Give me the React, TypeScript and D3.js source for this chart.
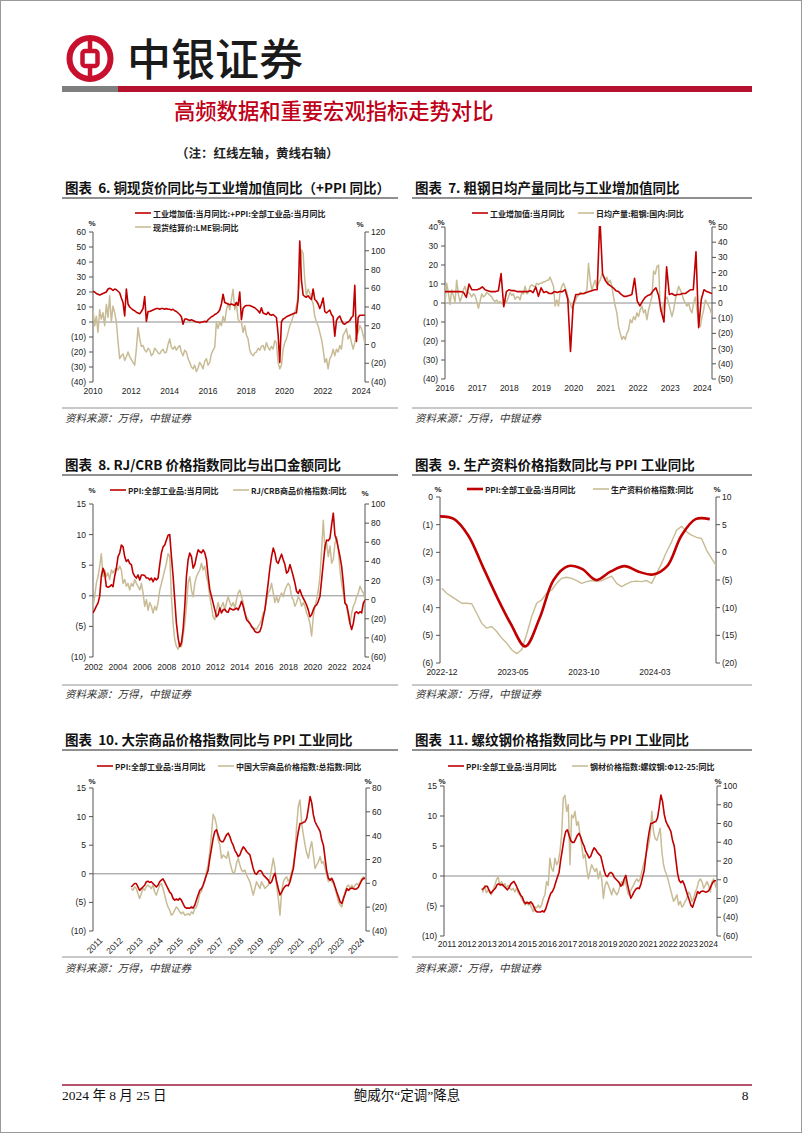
import React from 'react';
import * as d3 from 'd3';

const RED = '#C00000';
const GOLD = '#C8BC96';
const CJK = '"Noto Sans CJK SC", "Noto Sans", sans-serif';
const NUM = '"Liberation Sans", Arial, sans-serif';
const SERIF = '"Liberation Serif", "Noto Sans CJK SC", serif';

// ---------------- data ----------------
// Chart 6
const ch6YearTicks = [2010, 2012, 2014, 2016, 2018, 2020, 2022, 2024];
const ch6Span: [number, number] = [2010.0, 2024.19];
const ch6IvaPpi = [
  20.5, 20, 19, 18.5, 18, 18.5, 19, 19.5, 20, 22,
  22.5, 22, 21, 22, 21.5, 20.5, 19.5, 16, 13, 4,
  22, 12, 10, 9, 8, 7.5, 6.5, 6, 5.5, 7,
  9, 17, 0.5, 7, 7, 7.5, 8, 8.5, 9, 9,
  8.5, 9, 9, 8.5, 9, 8.5, 8.5, 8, 8.5, 7.5,
  7, 6, 5, 3.5, -1.5, 2, 2, 1.5, 1, 1.5,
  1, 0.5, 0, 0, -0.5, 0, 0, 0.5, 0, 1.5,
  2.5, 3.5, 4, 5, 5.5, 6.5, 8, 12, 18.5, 13,
  12.5, 12, 11.5, 12, 11.5, 11, 13, 11, 20, 1.5,
  9, 10.5, 11, 11, 11, 10.5, 10, 9.5, 8.5, 7.5,
  6, 9.5, 6, 5.5, 5, 6.5, 5, 4.5, 5, 4,
  3, -8, -27, 0, 2, 2.5, 3.5, 4, 4.5, 5,
  5.5, 6, 6, 15, 54, 28, 18, 17, 16.5, 17.5,
  16, 15, 22, 15, 14, 12, 9, 12, 16, 7,
  6, 7, 8, 5, 3.5, -9.5, 1, 3, 4, 1,
  -1, -1.5, -0.5, 0, 1, 3, 4, 24.5, -13, 3,
  4.5, 4.5, 4.5, 4.5,
];
const ch6Copper = [
  37, 20, 30, 13, 37, 27, 34, 20, 43, 29,
  52, 24, 41, 34, 24, 3, -15, -12, -10, -17,
  -13, -8, -13, -16, -19, -22, -5, 18, 6, -2,
  -1, -6, -8, -4, -6, -12, -10, -4, -6, -9,
  -10, -7, -5, -9, -8, 0, 6, -3, -5, -2,
  -6, -3, -1, -8, -12, -6, -8, -15, -19, -24,
  -26, -22, -29, -25, -19, -22, -26, -18, -15, -22,
  -19, -10, -6, -3, 24, 17, 24, 20, 30, 24,
  37, 44, 37, 48, 59, 37, 44, 27, 24, 24,
  13, 20, 10, 6, -6, -10, -12, -9, -8, -4,
  -6, -2, -1, -6, 2, -3, -6, -2, -5, 4,
  2, -19, -26, -22, -5, 2, 6, 13, 20, 24,
  30, 34, 41, 52, 69, 101, 97, 69, 52, 59,
  55, 48, 44, 30, 24, 20, 13, 6, -5, -19,
  -15, -26, -15, -12, -5, -12, -5, -8, -1, -5,
  10, 13, 17, 6, 10, 2, -5, 2, 10, 13,
  20, 17, 10, 2,
];

// Chart 7
const ch7YearTicks = [2016, 2017, 2018, 2019, 2020, 2021, 2022, 2023, 2024];
const ch7Span: [number, number] = [2016.0, 2024.3];
const ch7Iva = [
  6, 6, 6, 6, 6, 6, 6, 5.5, 3, 10,
  7, 7, 7, 7.5, 8.5, 7, 6.5, 6, 6, 6,
  6.5, 15.5, -2, 6, 7, 6.5, 6.5, 6, 6, 6,
  6, 6, 6.5, 5.5, 8.5, 3.5, 8, 5.5, 6, 5,
  5, 6, 5.5, 6, 6, 7, 2, -25.5, -1, 4.5,
  4.5, 5, 5, 5.5, 6, 6.5, 7, 7, 45, 15.5,
  12, 10, 9, 8, 6.5, 6, 4.5, 3.5, 3.5, 4,
  4.5, 13, 1, -1.5, 1, 3, 4, 4.5, 6.5, 8,
  4, -4.5, -10, 19, 4.5, 5, 4, 4.5, 4.5, 5,
  5, 6, 7, 7, 27, -13, 2, 7, 6, 5.5, 5,
];
const ch7Steel = [
  -0.2, 13, 7, -1, 8.5, 5, 0.6, 15, 6, 1,
  4, 8.5, 11, 6, 7, 6, 4, 6, 5, 1,
  -3.5, 1, 6, 4, 5, 7, 6, 5, 4, 2,
  1, 2, 0, 1, 0, -1, 1, 1, 4, 7,
  5, 6, 2.5, 4, 4, 2, 7, 6, 11, 6,
  7, 11, 12, 11, 11, 13, 12, 13, 13, 14,
  14, 15, 15, 17, 14, 11, -2, 2, -2, 7,
  11, 13, 10, 7, 2, 0, -3.5, -2, 1, 4,
  5, 7, 6, 6, 7, 8.5, 26, 15, 8.5, 12,
  15, 10, 13, 15, 19, 17, 15, 17, 13, 15,
  11, 4, -2, -6.5, -15.5, -20, -24, -22, -24, -20,
  -17.7, -11, -13, -9, -11, -6.5, -9, -4.5, -2, -6.5,
  -4.5, -11, -4.5, 0, 4, 21, 19, 24, 25, -4.5,
  -6.5, 0, 2, 4, 0, -4.5, -9, -4.5, 2, 7,
  11, 8.5, 6, 2, 0, -2, 0, -4.5, -6.5, 0,
  4, -4.5, -13, -15.5, -9, -4.5, 2, 0, -2, -4.5,
  -8,
];

// Chart 8
const ch8YearTicks = [2002, 2004, 2006, 2008, 2010, 2012, 2014, 2016, 2018, 2020, 2022, 2024];
const ch8Span: [number, number] = [2001.95, 2024.28];
const ch8Ppi = [
  -2.8, -2.3, -1.7, -1.2, -0.1, 3.2, 4.5, 3.7, 1.5, 1.4,
  1.5, 1.8, 1.5, 3.2, 4.5, 6.4, 7, 8.3, 8, 6.4,
  5.6, 5.9, 5.3, 5.1, 3.7, 3.2, 2.9, 3.4, 2.6, 3.4,
  3.4, 3.3, 2.9, 2.9, 2.6, 2.9, 2.3, 2.9, 2.6, 2.9,
  5.1, 7, 8, 8.3, 9.1, 9.9, 10, 6.4, 3.2, -0.7,
  -4.5, -6.9, -8.3, -7.7, -5.5, -1.7, 3.2, 5.9, 7, 6.4,
  4.5, 5.1, 6.4, 7.5, 7.2, 7, 7.5, 7, 5.9, 3.2,
  1, -0.1, -1.2, -2.3, -3.4, -3.1, -2, -2.8, -2.3, -2.2,
  -2.6, -2.7, -2, -2.2, -2.3, -2.2, -2, -2.3, -1.7, -0.9,
  -1.7, -2.8, -3.9, -4.2, -4.5, -5, -5.3, -5.8, -6, -6,
  -5.8, -5, -3.6, -2.3, -0.1, 2.1, 4.5, 6.4, 7.8, 7,
  5.6, 5.3, 6.1, 6.8, 5.9, 5.1, 3.7, 4, 5.1, 4.2,
  3.2, 2.1, 0.7, 0.4, 1, 0.2, -0.4, -0.9, -1.5, -2.3,
  -3.4, -3.1, -2.3, -1.7, -1.5, -0.9, -0.1, 2.6, 5.3, 8,
  9.1, 9, 9.4, 11.6, 13.5, 9.9, 9.1, 7.8, 6.4, 4.8,
  2.1, -1.2, -1.5, -2.8, -4.5, -5.5, -4.5, -2.8, -2.6, -2.9,
  -2.6, -2.8, -1.2, -0.7,
];
const ch8Crb = [
  -7, 3, 17, 24, 35, 48, 24, 31, 24, 28,
  21, 31, 28, 31, 33, 31, 35, 31, 17, 21,
  14, 17, 10, 17, 14, 21, 17, 14, 10, 17,
  7, -7, 0, -11, -3, -7, -14, -7, -11, -3,
  10, 17, 24, 31, 38, 48, 45, 3, -25, -42,
  -49, -52, -45, -49, -38, -25, -7, 17, 24, 10,
  3, 17, 24, 28, 31, 38, 31, 35, 24, 17,
  3, -7, -18, -21, -11, -3, -11, -7, -3, -11,
  -3, 3, -3, -7, -3, -9, 0, 7, 10, 3,
  -3, -14, -18, -21, -25, -28, -31, -30, -31, -28,
  -25, -21, -14, -11, 0, 7, 10, 17, 7, -3,
  3, -3, 3, 7, 3, 10, 14, 17, 14, 3,
  0, -7, -3, 3, 0, -7, -3, -7, -14, -18,
  -25, -38, -18, -7, 0, 10, 24, 52, 83, 52,
  59, 45, 56, 38, 42, 59, 66, 52, 31, 17,
  7, -3, -7, -18, -25, -14, -7, -3, 3, 7,
  14, 10, 7, 0,
];

// Chart 9 (months since 2022-12)
const ch9MonthTicks = [0, 5, 10, 15];
const ch9MonthLabels = ['2022-12', '2023-05', '2023-10', '2024-03'];
const ch9PpiSpan: [number, number] = [0, 19];
const ch9Ppi = [-0.7, -0.8, -1.4, -2.5, -3.6, -4.6, -5.4, -4.4, -3.0, -2.5, -2.6, -3.0, -2.7, -2.5, -2.7, -2.8, -2.5, -1.4, -0.8, -0.8];
const ch9MeansSpan: [number, number] = [0.12, 19.48];
const ch9Means = [
  -6.5, -7.4, -8, -8.6, -9.2, -9.2, -9.3, -11, -12.8, -13.7,
  -13.4, -14.3, -15.5, -16.4, -17.6, -18.3, -17.6, -14.8, -11.6, -9.2,
  -8.6, -7.4, -6.8, -5.6, -4.7, -4.5, -4.7, -5.1, -5.6, -5.3,
  -5.1, -5.3, -5.1, -4.7, -4.3, -5.6, -6.2, -5.7, -5.3, -5.2,
  -5.3, -5.1, -5.6, -3.8, -2, 0.1, 1.9, 4, 4.7, 3.7,
  3.1, 2.7, 2.5, 0.4, -1.1, -2.5,
];

// Charts 10 & 11
const years2011 = [2011, 2012, 2013, 2014, 2015, 2016, 2017, 2018, 2019, 2020, 2021, 2022, 2023, 2024];
const ppiSpan: [number, number] = [2012.9, 2024.52];
const ppiSince2013 = [
  -2.3, -2, -1.7, -1.7, -2.3, -2.9, -2.6, -2.3, -2, -1.4,
  -1.3, -1.5, -1.4, -1.7, -2, -2.3, -2, -1.4, -1.1, -0.9,
  -1.4, -2, -2.6, -3.2, -3.5, -4.3, -4.6, -4.4, -4.6, -4.3,
  -4.6, -5.2, -5.8, -6, -6, -6, -5.8, -6, -5.5, -4.6,
  -3.7, -2.9, -2.6, -2, -1.1, -0.2, 0.6, 2.7, 4.4, 6.2,
  7.4, 7.7, 6.8, 5.9, 5.6, 5.6, 6.2, 6.8, 7.1, 6.5,
  5.6, 5, 4.1, 3.6, 3, 3.3, 4.1, 4.7, 4.4, 3.9,
  3.6, 3.3, 2.1, 0.9, 0.1, -0.1, 0.4, 0.6, 0.4, -0.2,
  -0.5, -0.8, -1.1, -1.7, -1.4, -0.5, 0.1, -1.4, -2.6, -3.7,
  -3.2, -2.6, -2.2, -2, -2.1, -1.4, -0.2, 0.9, 3.3, 5.6,
  7.4, 8.8, 8.8, 9, 9.1, 9.7, 11.5, 13.5, 12.4, 10.3,
  9.1, 8.5, 8, 7.4, 5.9, 5, 2.7, 0.4, -0.8, -1.1,
  -0.8, -1.4, -2.3, -3.2, -4, -4.9, -5.2, -4.3, -3.5, -2.6,
  -2.9, -2.6, -2.5, -2.6, -2.7, -2.6, -2.3, -1.7, -1.1, -0.8,
  -0.8,
];
const ch10BulkSpan: [number, number] = [2012.9, 2024.52];
const ch10Bulk = [
  -4.3, -5.7, -2.9, -4.3, -8.5, -12.7, -8.5, -4.3, -5.7, -2.9,
  -1.5, -2.9, -4.3, -1.5, -7.1, -9.9, -5.7, -1.5, -0.1, -4.3,
  -9.9, -15.6, -19.8, -22.6, -26.8, -25.4, -22.6, -19.8, -21.2, -24,
  -25.4, -24, -26.8, -26.2, -25.4, -26.8, -24, -25.4, -21.2, -19.8,
  -15.6, -8.5, -7.1, -1.5, 1.3, 9.8, 15.4, 26.6, 40.7, 58,
  55, 49, 36.4, 32.2, 21, 23.8, 22.4, 21, 26.6, 18.2,
  12.5, 8.3, 9.8, 16.8, 21, 15.4, 11.1, 9.8, 11.1, 7,
  4.1, 1.3, -4.3, -9.9, -4.3, 1.3, -1.5, -4.3, 1.3, -1.5,
  -4.3, -2.9, -1.5, 4.1, 12.5, 21, 12.5, -1.5, -12.7, -26.8,
  -7.1, 1.3, 4.1, 5.5, 1.3, 4.1, 9.8, 15.4, 26.6, 49,
  65, 70, 50, 40.7, 32.2, 25.2, 21, 29.4, 35, 23.8,
  12.5, 15.4, 18.2, 22.4, 16.8, 18.2, 12.5, 7, 1.3, 4.1,
  1.3, -0.1, -4.3, -9.9, -15.6, -18.4, -19.8, -12.7, -7.1, -2.9,
  -1.5, -4.3, -1.5, -4.3, -1.5, -0.1, -1.5, 1.3, 4.1, 5.5,
  4.1,
];
const ch11RebarSpan: [number, number] = [2012.86, 2024.57];
const ch11Rebar = [
  -9, -13, -6, -14, -11, -13, -16, -11, -6, 0,
  3, -6, -2, -7, -4, -9, -6, -9, -11, -9,
  -13, -9, -14, -16, -20, -23, -27, -23, -27, -25,
  -30, -34, -29, -30, -27, -30, -27, -20, -16, -2,
  -6, 23, 12, 9, 23, 16, 19, 30, 48, 87,
  90, 73, 80, 16, 69, 66, 73, 58, 62, 48,
  37, 23, 27, 12, 1, 9, 16, 12, 9, 12,
  1, 9, 1, -20, -6, -2, -6, -11, -16, -9,
  -13, -16, -13, -6, -2, -6, 1, -9, -16, -13,
  -9, -6, -2, 1, -2, 1, 9, 16, 23, 30,
  37, 48, 73, 51, 44, 42, 48, 55, 30, 16,
  9, 5, -2, -9, -16, -23, -20, -16, -27, -23,
  -29, -27, -23, -20, -13, -16, -23, -20, -13, -9,
  -2, 1, -2, -9, -6, -2, -6, -13, -2, 1,
  -6, -11,
];

// ---------------- chart component ----------------
type S = { values: number[]; span: [number, number]; axis: 'L' | 'R'; color: string; width: number; smooth?: boolean };
type Leg = { text: string; color: string; width: number; x: number; y: number };
type Cfg = {
  id: string; x0: number; x1: number; yTop: number; yBot: number;
  xDomain: [number, number]; lDomain: [number, number]; rDomain: [number, number];
  lStep: number; rStep: number;
  xTicks: number[]; xLabels: string[]; xLabelY: number; rotate?: boolean; xShift?: number;
  zero?: boolean; series: S[]; legend: Leg[]; pctL: [number, number]; pctR: [number, number];
};

const fmt = (v: number) => (v < 0 ? `(${Math.abs(Math.round(v * 100) / 100)})` : `${Math.round(v * 100) / 100}`);

function Chart({ c }: { c: Cfg }) {
  const x = d3.scaleLinear().domain(c.xDomain).range([c.x0, c.x1]);
  const yL = d3.scaleLinear().domain(c.lDomain).range([c.yBot, c.yTop]);
  const yR = d3.scaleLinear().domain(c.rDomain).range([c.yBot, c.yTop]);
  const lTicks = d3.range(c.lDomain[0], c.lDomain[1] + 1e-6, c.lStep);
  const rTicks = d3.range(c.rDomain[0], c.rDomain[1] + 1e-6, c.rStep);
  const paths = c.series.map((s) => {
    const y = s.axis === 'L' ? yL : yR;
    const t = d3.scaleLinear().domain([0, s.values.length - 1]).range(s.span);
    const gen = d3
      .line<number>()
      .x((_, i) => x(t(i)))
      .y((v) => y(v))
      .curve(s.smooth ? d3.curveCatmullRom.alpha(0.5) : d3.curveLinear);
    return gen(s.values) || '';
  });
  const shift = c.xShift || 0;
  return (
    <g>
      <defs>
        <clipPath id={c.id}>
          <rect x={c.x0} y={c.yTop - 1} width={c.x1 - c.x0} height={c.yBot - c.yTop + 2} />
        </clipPath>
      </defs>
      {c.legend.map((l, i) => (
        <g key={i}>
          <line x1={l.x} x2={l.x + 16} y1={l.y} y2={l.y} stroke={l.color} strokeWidth={l.width} />
          <text x={l.x + 18} y={l.y} dominantBaseline="central" fontFamily={CJK} fontSize={8} fontWeight={700} fill="#222">
            {l.text}
          </text>
        </g>
      ))}
      <text x={c.pctL[0]} y={c.pctL[1]} textAnchor="middle" dominantBaseline="central" fontFamily={NUM} fontSize={8} fontWeight={700} fill="#222">%</text>
      <text x={c.pctR[0]} y={c.pctR[1]} textAnchor="middle" dominantBaseline="central" fontFamily={NUM} fontSize={8} fontWeight={700} fill="#222">%</text>
      {c.zero && <line x1={c.x0} x2={c.x1} y1={yL(0)} y2={yL(0)} stroke="#8c8c8c" strokeWidth={1} />}
      <line x1={c.x0} x2={c.x0} y1={c.yTop} y2={c.yBot} stroke="#555" strokeWidth={1} />
      <line x1={c.x1} x2={c.x1} y1={c.yTop} y2={c.yBot} stroke="#555" strokeWidth={1} />
      {lTicks.map((v) => (
        <g key={'l' + v}>
          <line x1={c.x0 - 4} x2={c.x0} y1={yL(v)} y2={yL(v)} stroke="#555" />
          <text x={c.x0 - 7} y={yL(v)} textAnchor="end" dominantBaseline="central" fontFamily={NUM} fontSize={8.5} fill="#222">{fmt(v)}</text>
        </g>
      ))}
      {rTicks.map((v) => (
        <g key={'r' + v}>
          <line x1={c.x1} x2={c.x1 + 4} y1={yR(v)} y2={yR(v)} stroke="#555" />
          <text x={c.x1 + 6} y={yR(v)} textAnchor="start" dominantBaseline="central" fontFamily={NUM} fontSize={8.5} fill="#222">{fmt(v)}</text>
        </g>
      ))}
      {c.xTicks.map((v, i) =>
        c.rotate ? (
          <text key={'x' + i} transform={`translate(${x(v) + 8},${c.xLabelY}) rotate(-45)`} textAnchor="end" dy="0.35em" fontFamily={NUM} fontSize={8.5} fill="#222">
            {c.xLabels[i]}
          </text>
        ) : (
          <text key={'x' + i} x={x(v) + shift} y={c.xLabelY} textAnchor="middle" dominantBaseline="central" fontFamily={NUM} fontSize={8.5} fill="#222">
            {c.xLabels[i]}
          </text>
        )
      )}
      <g clipPath={`url(#${c.id})`}>
        {c.series.map((s, i) => (
          <path key={i} d={paths[i]} fill="none" stroke={s.color} strokeWidth={s.width} strokeLinejoin="round" />
        ))}
      </g>
    </g>
  );
}

const charts: Cfg[] = [
  {
    id: 'c6', x0: 93, x1: 365, yTop: 232, yBot: 382,
    xDomain: [2010, 2024.2], lDomain: [-40, 60], rDomain: [-40, 120], lStep: 10, rStep: 20,
    xTicks: ch6YearTicks, xLabels: ch6YearTicks.map(String), xLabelY: 391, zero: true,
    series: [
      { values: ch6Copper, span: ch6Span, axis: 'R', color: GOLD, width: 1.5 },
      { values: ch6IvaPpi, span: ch6Span, axis: 'L', color: RED, width: 1.6 },
    ],
    legend: [
      { text: '工业增加值:当月同比:+PPI:全部工业品:当月同比', color: RED, width: 1.6, x: 135, y: 213 },
      { text: '现货结算价:LME铜:同比', color: GOLD, width: 1.6, x: 135, y: 227 },
    ],
    pctL: [92, 223], pctR: [360, 224],
  },
  {
    id: 'c7', x0: 445, x1: 712, yTop: 227, yBot: 379,
    xDomain: [2016, 2024.3], lDomain: [-40, 40], rDomain: [-50, 50], lStep: 10, rStep: 10,
    xTicks: ch7YearTicks, xLabels: ch7YearTicks.map(String), xLabelY: 388, zero: true,
    series: [
      { values: ch7Steel, span: ch7Span, axis: 'R', color: GOLD, width: 1.5 },
      { values: ch7Iva, span: ch7Span, axis: 'L', color: RED, width: 1.6 },
    ],
    legend: [
      { text: '工业增加值:当月同比', color: RED, width: 1.6, x: 472, y: 213 },
      { text: '日均产量:粗钢:国内:同比', color: GOLD, width: 1.6, x: 578, y: 213 },
    ],
    pctL: [441, 222], pctR: [712, 222],
  },
  {
    id: 'c8', x0: 93, x1: 365, yTop: 504, yBot: 657,
    xDomain: [2001.95, 2024.28], lDomain: [-10, 15], rDomain: [-60, 100], lStep: 5, rStep: 20,
    xTicks: ch8YearTicks, xLabels: ch8YearTicks.map(String), xLabelY: 667, zero: true,
    series: [
      { values: ch8Crb, span: ch8Span, axis: 'R', color: GOLD, width: 1.5 },
      { values: ch8Ppi, span: ch8Span, axis: 'L', color: RED, width: 1.6 },
    ],
    legend: [
      { text: 'PPI:全部工业品:当月同比', color: RED, width: 1.6, x: 110, y: 490 },
      { text: 'RJ/CRB商品价格指数:同比', color: GOLD, width: 1.6, x: 233, y: 490 },
    ],
    pctL: [92, 490], pctR: [365, 493],
  },
  {
    id: 'c9', x0: 440, x1: 716, yTop: 497, yBot: 663,
    xDomain: [0, 19.44], lDomain: [-6, 0], rDomain: [-20, 10], lStep: 1, rStep: 5,
    xTicks: ch9MonthTicks, xLabels: ch9MonthLabels, xLabelY: 672, zero: false, xShift: 2,
    series: [
      { values: ch9Means, span: ch9MeansSpan, axis: 'R', color: GOLD, width: 1.4 },
      { values: ch9Ppi, span: ch9PpiSpan, axis: 'L', color: RED, width: 2.6, smooth: true },
    ],
    legend: [
      { text: 'PPI:全部工业品:当月同比', color: RED, width: 2.6, x: 467, y: 489 },
      { text: '生产资料价格指数:同比', color: GOLD, width: 1.6, x: 593, y: 489 },
    ],
    pctL: [438, 489], pctR: [717, 489],
  },
  {
    id: 'c10', x0: 93, x1: 366, yTop: 788, yBot: 931,
    xDomain: [2011, 2024.56], lDomain: [-10, 15], rDomain: [-40, 80], lStep: 5, rStep: 20,
    xTicks: years2011, xLabels: years2011.map(String), xLabelY: 939, rotate: true, zero: true,
    series: [
      { values: ch10Bulk, span: ch10BulkSpan, axis: 'R', color: GOLD, width: 1.5 },
      { values: ppiSince2013, span: ppiSpan, axis: 'L', color: RED, width: 1.6 },
    ],
    legend: [
      { text: 'PPI:全部工业品:当月同比', color: RED, width: 1.6, x: 97, y: 766 },
      { text: '中国大宗商品价格指数:总指数:同比', color: GOLD, width: 1.6, x: 218, y: 766 },
    ],
    pctL: [92, 781], pctR: [368, 781],
  },
  {
    id: 'c11', x0: 444, x1: 717, yTop: 786, yBot: 936,
    xDomain: [2011, 2024.57], lDomain: [-10, 15], rDomain: [-60, 100], lStep: 5, rStep: 20,
    xTicks: years2011, xLabels: years2011.map(String), xLabelY: 944, zero: true, xShift: 3,
    series: [
      { values: ch11Rebar, span: ch11RebarSpan, axis: 'R', color: GOLD, width: 1.5 },
      { values: ppiSince2013, span: ppiSpan, axis: 'L', color: RED, width: 1.6 },
    ],
    legend: [
      { text: 'PPI:全部工业品:当月同比', color: RED, width: 1.6, x: 448, y: 766 },
      { text: '钢材价格指数:螺纹钢:Φ12-25:同比', color: GOLD, width: 1.6, x: 572, y: 766 },
    ],
    pctL: [442, 781], pctR: [718, 781],
  },
];

const titles = [
  { text: '图表  6. 铜现货价同比与工业增加值同比（+PPI 同比）', col: 0, row: 0 },
  { text: '图表  7. 粗钢日均产量同比与工业增加值同比', col: 1, row: 0 },
  { text: '图表  8. RJ/CRB 价格指数同比与出口金额同比', col: 0, row: 1 },
  { text: '图表  9. 生产资料价格指数同比与 PPI 工业同比', col: 1, row: 1 },
  { text: '图表  10. 大宗商品价格指数同比与 PPI 工业同比', col: 0, row: 2 },
  { text: '图表  11. 螺纹钢价格指数同比与 PPI 工业同比', col: 1, row: 2 },
];
const rowTitleY = [193, 470, 745];
const rowTitleLine = [198, 475, 750];
const rowSrcLine = [408, 685, 957];
const rowSrcY = [418, 694, 968];
const colX = [[62, 398], [412, 752]];

export default function App() {
  return (
    <svg width={802} height={1133} style={{ position: 'absolute', left: 0, top: 0, background: '#fff' }}>
      <rect x={0.5} y={0.5} width={801} height={1132} fill="#fff" stroke="#9a9a9a" />
      <g>
        <circle cx={90} cy={58.5} r={20.5} fill="none" stroke="#c8102e" strokeWidth={6} />
        <rect x={82.5} y={51} width={15} height={15} rx={2.5} fill="none" stroke="#c8102e" strokeWidth={4.5} />
        <line x1={90} x2={90} y1={37} y2={49} stroke="#c8102e" strokeWidth={4.5} />
        <line x1={90} x2={90} y1={68} y2={80} stroke="#c8102e" strokeWidth={4.5} />
      </g>
      <text x={127} y={76} fontFamily={CJK} fontSize={44} fontWeight={500} fill="#1a1a1a">中银证券</text>
      <rect x={62} y={86} width={56} height={6} fill="#7f7f7f" />
      <rect x={118} y={86} width={634} height={6} fill="#b5122f" />
      <text x={174} y={119} fontFamily={CJK} fontSize={21.3} fontWeight={500} fill="#c00018">高频数据和重要宏观指标走势对比</text>
      <text x={176} y={158} fontFamily={CJK} fontSize={12.5} fontWeight={700} fill="#222">（注：红线左轴，黄线右轴）</text>

      {titles.map((t, i) => (
        <g key={i}>
          <text x={colX[t.col][0] + 3} y={rowTitleY[t.row]} fontFamily={CJK} fontSize={13.5} fontWeight={700} fill="#111" style={{ whiteSpace: 'pre' }}>{t.text}</text>
          <line x1={colX[t.col][0]} x2={colX[t.col][1]} y1={rowTitleLine[t.row]} y2={rowTitleLine[t.row]} stroke="#222" strokeWidth={1.2} />
          <line x1={colX[t.col][0]} x2={colX[t.col][1]} y1={rowSrcLine[t.row]} y2={rowSrcLine[t.row]} stroke="#777" strokeWidth={0.8} />
          <text x={colX[t.col][0] + 3} y={rowSrcY[t.row] + 4} fontFamily={CJK} fontSize={10.5} fontStyle="italic" fill="#333">资料来源：万得，中银证券</text>
        </g>
      ))}

      {charts.map((c) => (
        <Chart key={c.id} c={c} />
      ))}

      <line x1={62} x2={752} y1={1085} y2={1085} stroke="#9e1b3c" strokeWidth={1.5} />
      <text x={62} y={1100} fontFamily={SERIF} fontSize={13.5} fill="#111">2024 年 8 月 25 日</text>
      <text x={407} y={1100} textAnchor="middle" fontFamily={SERIF} fontSize={13.5} fill="#111">鲍威尔“定调”降息</text>
      <text x={745} y={1100} textAnchor="middle" fontFamily={SERIF} fontSize={13.5} fill="#111">8</text>
    </svg>
  );
}
